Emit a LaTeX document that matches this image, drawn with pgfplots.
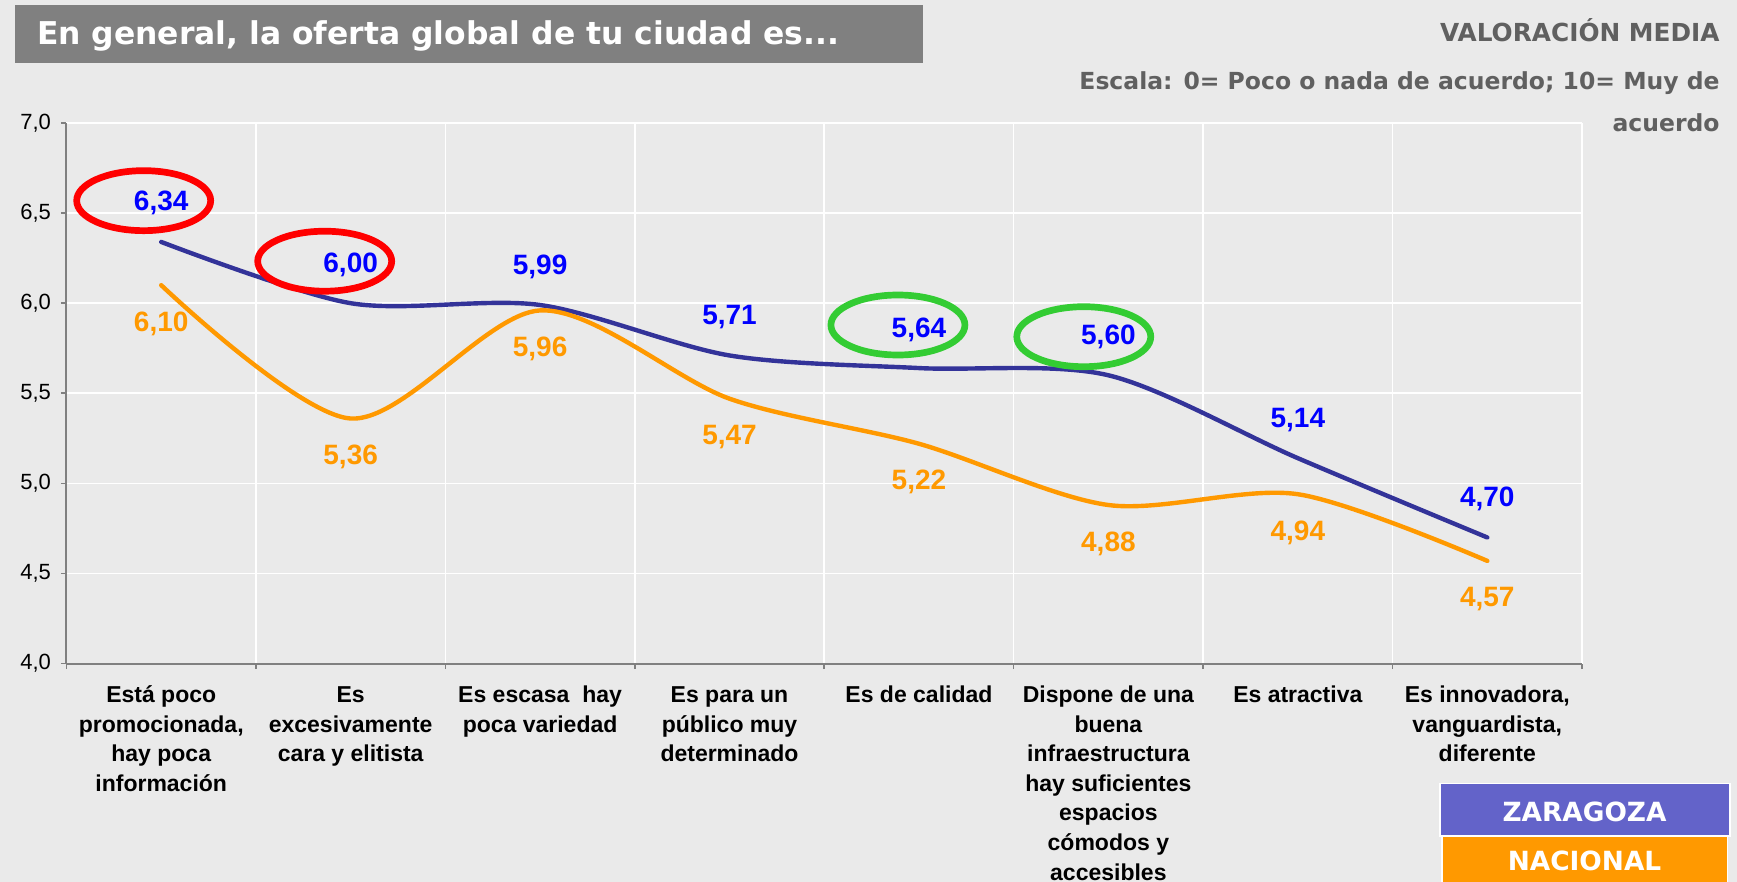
\documentclass[border=0pt]{standalone}
\usepackage{fontspec}
\setmainfont{Liberation Sans}
\newfontfamily\dejavu{DejaVu Sans}
\usepackage{pgfplots}
\pgfplotsset{compat=1.18}
\definecolor{bg}{HTML}{EAEAEA}
\definecolor{zar}{HTML}{333399}
\definecolor{nac}{HTML}{FF9900}
\definecolor{zarleg}{HTML}{6363C9}
\definecolor{hdr}{HTML}{808080}
\definecolor{subt}{HTML}{606060}
\definecolor{ringgreen}{HTML}{33CC33}
\definecolor{ringred}{HTML}{FF0000}
\definecolor{lblblue}{HTML}{0000FF}

\pgfplotstableread{
x y
0 6.34
1 6.00
2 5.99
3 5.71
4 5.64
5 5.60
6 5.14
7 4.70
}\zaragoza
\pgfplotstableread{
x y
0 6.10
1 5.36
2 5.96
3 5.47
4 5.22
5 4.88
6 4.94
7 4.57
}\nacional

\begin{document}
\begin{tikzpicture}
\fill[bg] (-33.25pt,-109.2pt) rectangle (835.25pt,331.8pt);
\path[use as bounding box] (-33.25pt,-109.2pt) rectangle (835.25pt,331.8pt);
\clip (-33.25pt,-109.2pt) rectangle (835.25pt,331.8pt);
% title
\fill[hdr] (-25.5pt,300.3pt) rectangle (428.15pt,329.05pt);
\node[anchor=base west, inner sep=0pt, text=white, font=\dejavu\bfseries\fontsize{15.7}{18}\selectfont] at (-14.95pt,309.45pt) {En general, la oferta global de tu ciudad es...};
\node[anchor=base east, inner sep=0pt, text=subt, font=\dejavu\bfseries\fontsize{12.4}{14}\selectfont] at (826.75pt,311.05pt) {VALORACIÓN MEDIA};
\node[anchor=base east, inner sep=0pt, text=subt, font=\dejavu\bfseries\fontsize{11.75}{14}\selectfont] at (826.75pt,287.05pt) {Escala: 0= Poco o nada de acuerdo; 10= Muy de};
\node[anchor=base east, inner sep=0pt, text=subt, font=\dejavu\bfseries\fontsize{11.75}{14}\selectfont] at (826.75pt,266.05pt) {acuerdo};
% legend boxes
\filldraw[fill=zarleg, draw=white, line width=0.6pt] (686.75pt,-86.2pt) rectangle (831.75pt,-59.85pt);
\filldraw[fill=nac, draw=white, line width=0.6pt] (687.75pt,-120pt) rectangle (830.6pt,-86.55pt);
\node[text=white, inner sep=0pt, font=\dejavu\bfseries\fontsize{13.2}{15}\selectfont] at (759pt,-74.05pt) {ZARAGOZA};
\node[text=white, inner sep=0pt, font=\dejavu\bfseries\fontsize{13.2}{15}\selectfont] at (759pt,-98.6pt) {NACIONAL};
\begin{axis}[
  at={(0,0)}, anchor=south west,
  scale only axis, width=757.75pt, height=270.3pt,
  xmin=-0.5, xmax=7.5, ymin=4, ymax=7,
  clip=false,
  axis x line*=bottom, axis y line*=left,
  axis line style={draw=black!50, line width=1pt},
  tick align=outside,
  major tick length=2.75pt,
  tick style={draw=black!50, line width=0.8pt},
  ytick={4,4.5,5,5.5,6,6.5,7},
  y tick label style={/pgf/number format/.cd, fixed, fixed zerofill, precision=1, use comma, assume math mode=true, /tikz/.cd, font=\fontsize{11}{13}\selectfont, text=black, xshift=-1.5pt},
  xtick={-0.5,0.5,1.5,2.5,3.5,4.5,5.5,6.5,7.5},
  xticklabels={},
  xmajorgrids, ymajorgrids,
  major grid style={white, line width=0.8pt},
  extra x ticks={0,1,2,3,4,5,6,7},
  extra x tick labels={
    {\rule{0pt}{11pt}Está poco\\promocionada,\\hay poca\\información},
    {\rule{0pt}{11pt}Es\\excesivamente\\cara y elitista},
    {\rule{0pt}{11pt}Es escasa\ \ hay\\poca variedad},
    {\rule{0pt}{11pt}Es para un\\público muy\\determinado},
    {\rule{0pt}{11pt}Es de calidad},
    {\rule{0pt}{11pt}Dispone de una\\buena\\infraestructura\\hay suficientes\\espacios\\cómodos y\\accesibles},
    {\rule{0pt}{11pt}Es atractiva},
    {\rule{0pt}{11pt}Es innovadora,\\vanguardista,\\diferente}},
  extra x tick style={grid=none, major tick length=0pt,
    tick label style={anchor=north, inner sep=0pt, align=center, yshift=-8.3pt,
      font=\bfseries\fontsize{11.5}{14.8}\selectfont, text=black}},
  every axis plot/.append style={line width=2.2pt, smooth, line cap=round, line join=round},
  point meta=y,
  nodes near coords={\pgfmathprintnumber[fixed,fixed zerofill,precision=2,use comma,assume math mode=true]{\pgfplotspointmeta}},
]
\addplot[zar, every node near coord/.style={anchor=center, yshift=19.3pt, inner sep=0pt, text=lblblue, font=\bfseries\fontsize{14}{16}\selectfont}] table[x=x,y=y] {\zaragoza};
\addplot[nac, every node near coord/.style={anchor=center, yshift=-19.3pt, inner sep=0pt, text=nac, font=\bfseries\fontsize{14}{16}\selectfont}] table[x=x,y=y] {\nacional};
\draw[ringred, line width=3.35pt] (axis cs:-0.0925,6.569) ellipse [x radius=33.5pt, y radius=15pt];
\draw[ringred, line width=3.35pt] (axis cs:0.863,6.233) ellipse [x radius=33.5pt, y radius=15pt];
\draw[ringgreen, line width=3.35pt] (axis cs:3.889,5.879) ellipse [x radius=33.5pt, y radius=15pt];
\draw[ringgreen, line width=3.35pt] (axis cs:4.870,5.814) ellipse [x radius=33.5pt, y radius=15pt];
\end{axis}
\end{tikzpicture}
\end{document}
